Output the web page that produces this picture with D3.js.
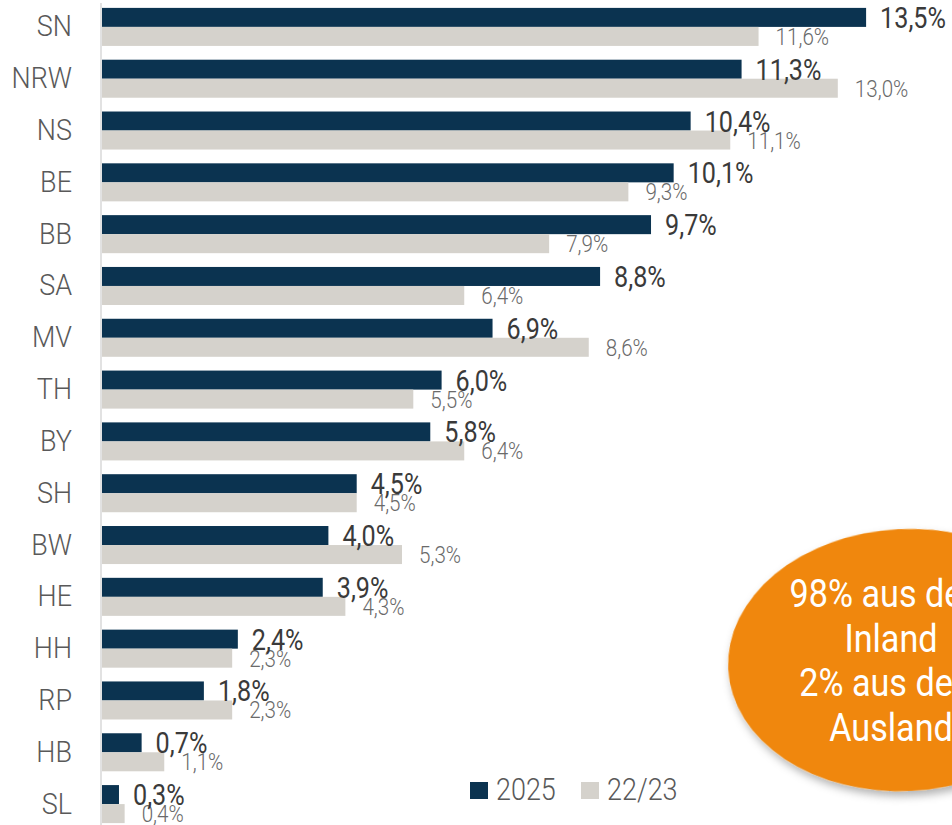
<!DOCTYPE html>
<html>
<head>
<meta charset="utf-8">
<script src="https://cdn.jsdelivr.net/npm/d3@7"></script>
<style>
  html, body { margin: 0; padding: 0; background: #fff; }
  svg { display: block; font-family: Roboto, "Noto Sans", sans-serif; }
</style>
</head>
<body>
<svg id="chart" width="952" height="825"></svg>
<script>
// ── DATA ───────────────────────────────────────────────────────────────────
const states = ['SN','NRW','NS','BE','BB','SA','MV','TH','BY','SH','BW','HE','HH','RP','HB','SL'];
const share2025 = [13.5, 11.3, 10.4, 10.1, 9.7, 8.8, 6.9, 6.0, 5.8, 4.5, 4.0, 3.9, 2.4, 1.8, 0.7, 0.3];
const share2223 = [11.6, 13.0, 11.1, 9.3, 7.9, 6.4, 8.6, 5.5, 6.4, 4.5, 5.3, 4.3, 2.3, 2.3, 1.1, 0.4];
const seriesNames = ['2025', '22/23'];
const noteLines = ['98% aus dem', 'Inland', '2% aus dem', 'Ausland'];

const DARK = '#0b3350';
const LIGHT = '#d5d2cc';

const fmt = v => d3.format('.1f')(v).replace('.', ',') + '%';

const svg = d3.select('#chart');

const x = d3.scaleLinear().domain([0, 14]).range([102, 102 + 14 * 56.6]);
const y = d3.scaleBand().domain(states).range([1, 830]).paddingInner(0.266).paddingOuter(0.133);
const ySub = d3.scaleBand().domain(seriesNames).range([0, y.bandwidth()]);

// helper: text squeezed horizontally to imitate a condensed face
function sText(parent, tx, ty, str, opts) {
  return parent.append('text')
    .attr('transform', `translate(${tx},${ty}) scale(${opts.sx},1)`)
    .attr('text-anchor', opts.anchor || 'start')
    .attr('font-size', opts.size)
    .attr('font-weight', opts.weight || 400)
    .attr('fill', opts.fill)
    .text(str);
}

// ── ORANGE NOTE BLOB ───────────────────────────────────────────────────────
const defs = svg.append('defs');
const f = defs.append('filter').attr('id', 'shadow').attr('x', '-20%').attr('y', '-20%').attr('width', '140%').attr('height', '150%');
f.append('feDropShadow').attr('dx', 2).attr('dy', 5).attr('stdDeviation', 4).attr('flood-color', '#000').attr('flood-opacity', 0.3);

svg.append('ellipse')
  .attr('cx', 905).attr('cy', 660).attr('rx', 177).attr('ry', 131)
  .attr('transform', 'rotate(-3 905 660)')
  .attr('fill', '#f0870a')
  .attr('filter', 'url(#shadow)');

noteLines.forEach((t, i) => {
  sText(svg, 891, 607 + i * 44.5, t, { anchor: 'middle', size: 38, sx: 0.9, fill: '#fff' });
});

// ── BARS ───────────────────────────────────────────────────────────────────
const g = svg.append('g');

g.selectAll('rect.b2025')
  .data(states)
  .join('rect').attr('class', 'b2025')
  .attr('x', x(0))
  .attr('y', d => y(d) + ySub('2025'))
  .attr('width', (d, i) => x(share2025[i]) - x(0))
  .attr('height', ySub.bandwidth())
  .attr('fill', DARK);

g.selectAll('rect.b2223')
  .data(states)
  .join('rect').attr('class', 'b2223')
  .attr('x', x(0))
  .attr('y', d => y(d) + ySub('22/23'))
  .attr('width', (d, i) => x(share2223[i]) - x(0))
  .attr('height', ySub.bandwidth())
  .attr('fill', LIGHT);

// axis line
svg.append('line')
  .attr('x1', 101).attr('x2', 101)
  .attr('y1', 3).attr('y2', 825)
  .attr('stroke', '#d9d9d9').attr('stroke-width', 1.5);

// category labels
states.forEach(s => {
  sText(svg, 72, y(s) + y.bandwidth() / 2 + 9.5, s, { anchor: 'end', size: 30, sx: 0.9, weight: 300, fill: '#595959' });
});

// value labels: 22/23 first so 2025 sits on top
states.forEach((s, i) => {
  const yy = y(s) + ySub('22/23') + ySub.bandwidth() / 2 + 8.5;
  sText(svg, x(share2223[i]) + 17, yy, fmt(share2223[i]), { size: 24, sx: 0.86, weight: 300, fill: '#6a6a6a' });
});
states.forEach((s, i) => {
  const yy = y(s) + ySub('2025') + ySub.bandwidth() / 2 + 10.5;
  sText(svg, x(share2025[i]) + 14, yy, fmt(share2025[i]), { size: 30, sx: 0.84, fill: '#3a3a3a' });
});

// ── LEGEND ────────────────────────────────────────────────────────────────
const legend = svg.append('g');
[[470, DARK], [581, LIGHT]].forEach(([lx, col], i) => {
  legend.append('rect').attr('x', lx).attr('y', 782).attr('width', 18).attr('height', 17).attr('fill', col);
  sText(legend, lx + 26, 800, seriesNames[i], { size: 31, sx: 0.87, weight: 300, fill: '#595959' });
});
</script>
</body>
</html>
